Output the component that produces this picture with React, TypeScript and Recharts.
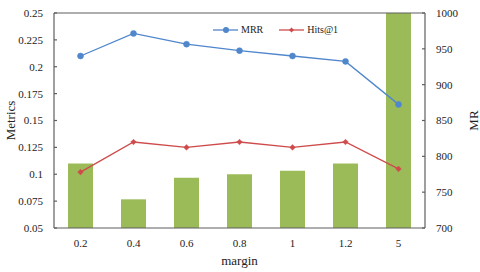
import React from 'react';
import { ComposedChart, Bar, Line, XAxis, YAxis, Legend, ReferenceLine } from 'recharts';

const margins = ['0.2', '0.4', '0.6', '0.8', '1', '1.2', '5'];
const mrr = [0.21, 0.231, 0.221, 0.215, 0.21, 0.205, 0.165];
const hits1 = [0.102, 0.13, 0.125, 0.13, 0.125, 0.13, 0.105];
const mr = [790, 740, 770, 775, 780, 790, 1050];

const metricTicks = [0.05, 0.075, 0.1, 0.125, 0.15, 0.175, 0.2, 0.225, 0.25];
const mrTicks = [700, 750, 800, 850, 900, 950, 1000];

const FONT = "'Liberation Serif', 'DejaVu Serif', serif";
const BLUE = '#4f86cc';
const RED = '#cf4b4b';
const GREEN = '#9bbb59';
const AXIS = '#5f5f5f';

const data = margins.map((m, i) => ({ margin: m, mrr: mrr[i], hits1: hits1[i], mr: mr[i] }));

const Diamond = (props: any) => {
    const { cx, cy } = props;
    if (cx == null || cy == null) return null;
    const s = 2.8;
    return <polygon points={`${cx},${cy - s} ${cx + s},${cy} ${cx},${cy + s} ${cx - s},${cy}`} fill={RED} stroke={RED} strokeWidth={0.5} />;
};

const legendItems = [
    { name: 'MRR', color: BLUE, marker: 'circle' },
    { name: 'Hits@1', color: RED, marker: 'diamond' },
];

const LegendContent = () => (
    <div style={{ display: 'flex', alignItems: 'center', fontFamily: FONT, fontSize: 10, color: '#222' }}>
        {legendItems.map((item, i) => (
            <div key={item.name} style={{ display: 'flex', alignItems: 'center', marginLeft: i === 0 ? 0 : 16 }}>
                <svg width={25} height={8}>
                    <line x1={0} y1={4} x2={25} y2={4} stroke={item.color} strokeWidth={1.3} />
                    {item.marker === 'circle'
                        ? <circle cx={13} cy={4} r={3} fill={item.color} />
                        : <polygon points="12.5,1.5 15,4 12.5,6.5 10,4" fill={item.color} />}
                </svg>
                <span style={{ marginLeft: 3 }}>{item.name}</span>
            </div>
        ))}
    </div>
);

export default function App() {
    const tickStyle = { fontSize: 11, fill: '#222' };
    const labelStyle = { fontSize: 13, fill: '#222' };
    return (
        <div style={{ position: 'absolute', left: 0, top: 0, width: 480, height: 272, background: '#fff', fontFamily: FONT }}>
            <style>{`svg text, svg tspan { font-family: ${FONT}; }`}</style>
            <ComposedChart width={480} height={272} data={data} margin={{ top: 13, right: 0, bottom: 0, left: 0 }}>
                <XAxis
                    dataKey="margin"
                    height={44}
                    stroke={AXIS}
                    strokeWidth={1.2}
                    tickLine={false}
                    tickSize={0}
                    tickMargin={11}
                    tick={tickStyle}
                    label={{ value: 'margin', position: 'insideBottom', offset: 7, style: labelStyle }}
                />
                <YAxis
                    yAxisId="left"
                    width={54}
                    domain={[0.05, 0.25]}
                    ticks={metricTicks}
                    interval={0}
                    stroke={AXIS}
                    strokeWidth={1.2}
                    tickSize={-3}
                    tickMargin={14}
                    tick={tickStyle}
                    label={{ value: 'Metrics', angle: -90, position: 'insideLeft', offset: 10, style: { ...labelStyle, textAnchor: 'middle' } }}
                />
                <YAxis
                    yAxisId="right"
                    orientation="right"
                    width={55}
                    domain={[700, 1000]}
                    ticks={mrTicks}
                    interval={0}
                    allowDataOverflow
                    stroke={AXIS}
                    strokeWidth={1.2}
                    tickSize={-3}
                    tickMargin={14}
                    tick={tickStyle}
                    label={{ value: 'MR', angle: -90, position: 'insideRight', offset: 7, style: { ...labelStyle, textAnchor: 'middle' } }}
                />
                <ReferenceLine yAxisId="left" y={0.25} stroke={AXIS} strokeWidth={1.2} />
                <Bar yAxisId="right" dataKey="mr" fill={GREEN} barSize={25} legendType="none" isAnimationActive={false} />
                <Line
                    yAxisId="left"
                    dataKey="mrr"
                    name="MRR"
                    stroke={BLUE}
                    strokeWidth={1.3}
                    dot={{ r: 3, fill: BLUE, stroke: BLUE, strokeWidth: 0.5 }}
                    isAnimationActive={false}
                />
                <Line
                    yAxisId="left"
                    dataKey="hits1"
                    name="Hits@1"
                    stroke={RED}
                    strokeWidth={1.3}
                    dot={<Diamond />}
                    isAnimationActive={false}
                />
                <Legend
                    layout="vertical"
                    align="center"
                    verticalAlign="middle"
                    content={<LegendContent />}
                    wrapperStyle={{ top: 24, left: 213, width: 'auto' }}
                />
            </ComposedChart>
        </div>
    );
}
